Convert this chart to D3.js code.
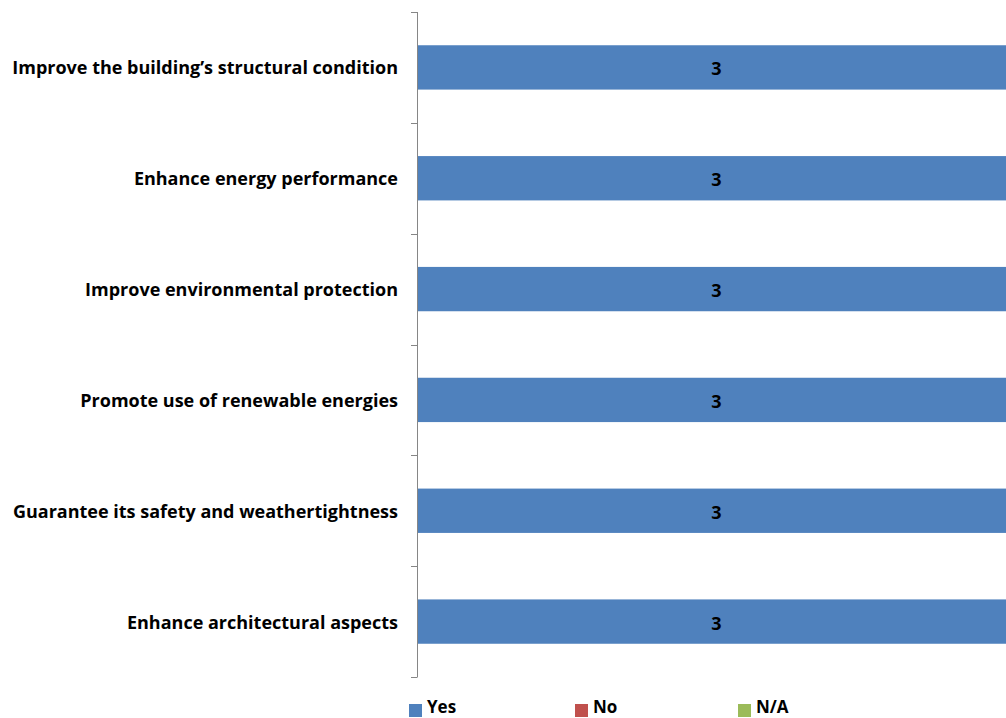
<!DOCTYPE html>
<html>
<head>
<meta charset="utf-8">
<script src="https://cdn.jsdelivr.net/npm/d3@7"></script>
<style>
  html, body { margin: 0; padding: 0; background: #fff; }
  svg { display: block; }
  text { font-family: "Open Sans", Lato, sans-serif; font-weight: bold; fill: #000; }
</style>
</head>
<body>
<svg id="chart" width="1006" height="718"></svg>
<script>
// Objectives of the renovation, top to bottom
const categories = [
  "Improve the building\u2019s structural condition",
  "Enhance energy performance ",
  "Improve environmental protection",
  "Promote use of renewable energies ",
  "Guarantee its safety and weathertightness",
  "Enhance architectural aspects"
];
const seriesNames = ["Yes", "No", "N/A"];
const yesValues = [3, 3, 3, 3, 3, 3];
const noValues  = [0, 0, 0, 0, 0, 0];
const naValues  = [0, 0, 0, 0, 0, 0];
const seriesColors = ["#4F81BD", "#C0504D", "#9BBB59"];

const rows = categories.map((c, i) => ({
  category: c, Yes: yesValues[i], No: noValues[i], "N/A": naValues[i]
}));

const svg = d3.select("#chart");
const plot = { left: 417, right: 1016, top: 12, bottom: 677 };

const x = d3.scaleLinear().domain([0, 3]).range([plot.left, plot.right]);
const y = d3.scaleBand().domain(categories)
  .range([plot.top, plot.bottom]).paddingInner(0.6).paddingOuter(0.3);
const color = d3.scaleOrdinal().domain(seriesNames).range(seriesColors);

const stack = d3.stack().keys(seriesNames)(rows);

// stacked bars
const layers = svg.append("g").selectAll("g").data(stack).join("g")
  .attr("fill", d => color(d.key));
layers.selectAll("rect").data(d => d.filter(s => s[1] - s[0] > 0)).join("rect")
  .attr("x", d => x(d[0]))
  .attr("y", d => y(d.data.category))
  .attr("width", d => x(d[1]) - x(d[0]))
  .attr("height", y.bandwidth());

// value labels
layers.selectAll("text").data(d => d.filter(s => s[1] - s[0] > 0)).join("text")
  .attr("x", d => (x(d[0]) + x(d[1])) / 2)
  .attr("y", d => y(d.data.category) + y.bandwidth() / 2 + 1)
  .attr("text-anchor", "middle")
  .attr("dominant-baseline", "central")
  .attr("font-size", 18)
  .text(d => d[1] - d[0]);

// category axis: vertical line with ticks at category boundaries
const axis = svg.append("g");
const step = (plot.bottom - plot.top) / categories.length;
const boundaries = d3.range(categories.length + 1).map(i => plot.top + i * step);
axis.append("line")
  .attr("x1", plot.left + 0.5).attr("x2", plot.left + 0.5)
  .attr("y1", plot.top).attr("y2", plot.bottom)
  .attr("stroke", "#868686").attr("stroke-width", 1);
axis.selectAll("line.tick").data(boundaries).join("line")
  .attr("class", "tick")
  .attr("x1", plot.left - 6).attr("x2", plot.left + 0.5)
  .attr("y1", d => Math.round(d) + 0.5).attr("y2", d => Math.round(d) + 0.5)
  .attr("stroke", "#868686").attr("stroke-width", 1);
axis.selectAll("text").data(categories).join("text")
  .attr("x", 398)
  .attr("y", d => y(d) + y.bandwidth() / 2)
  .attr("text-anchor", "end")
  .attr("dominant-baseline", "central")
  .attr("font-size", 18)
  .text(d => d);

// legend
const legendX = [409, 575, 738];
const legend = svg.append("g").selectAll("g").data(seriesNames).join("g")
  .attr("transform", (d, i) => `translate(${legendX[i]},704)`);
legend.append("rect").attr("width", 13).attr("height", 13).attr("fill", d => color(d));
legend.append("text").attr("x", 18).attr("y", 2.5)
  .attr("dominant-baseline", "central")
  .attr("font-size", 17)
  .text(d => d);
</script>
</body>
</html>
